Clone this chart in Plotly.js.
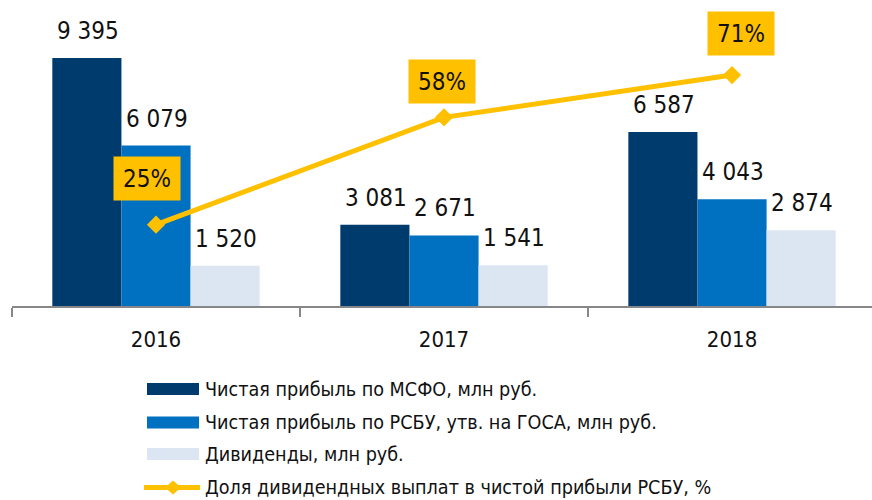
<!DOCTYPE html>
<html>
<head>
<meta charset="utf-8">
<script src="https://cdn.plot.ly/plotly-3.0.1.min.js"></script>
<style>
html,body{margin:0;padding:0;background:#fff;overflow:hidden;}
#chart{width:872px;height:500px;}
</style>
</head>
<body>
<div id="chart"></div>
<script>
// ---- data ----
const years = ['2016', '2017', '2018'];
const profitIFRS = [9395, 3081, 6587];
const profitRAS = [6079, 2671, 4043];
const dividends = [1520, 1541, 2874];
const payoutShare = [25, 58, 71];
const seriesNames = [
  'Чистая прибыль по МСФО, млн руб.',
  'Чистая прибыль по РСБУ, утв. на ГОСА, млн руб.',
  'Дивиденды, млн руб.',
  'Доля дивидендных выплат в чистой прибыли РСБУ, %'
];

// ---- styles ----
const FONT = '"Liberation Sans Narrow", "Arial Narrow", "DejaVu Sans Condensed", sans-serif';
const colors = ['#003B6D', '#0070C0', '#DCE6F2', '#FFC000'];
const L = 12, T = 10, W = 872, H = 500, B = 194;
const plotW = W - L, plotH = H - T - B;
const px = v => (v - L) / plotW;
const py = v => (H - B - v) / plotH;

function fmt(n) {
  return String(n).replace(/\B(?=(\d{3})+(?!\d))/g, ' ');
}

const barSeries = [profitIFRS, profitRAS, dividends];
const traces = barSeries.map((vals, i) => ({
  type: 'bar',
  x: years,
  y: vals,
  name: seriesNames[i],
  marker: {color: colors[i]},
  hoverinfo: 'none',
  showlegend: false
}));
traces.push({
  type: 'scatter',
  mode: 'lines+markers',
  x: years,
  y: payoutShare,
  yaxis: 'y2',
  name: seriesNames[3],
  line: {color: colors[3], width: 5},
  marker: {symbol: 'diamond', size: 14, color: colors[3]},
  hoverinfo: 'none',
  showlegend: false
});

const annotations = [];
// bar value labels
const barOffsets = [-1, 0, 1];
barSeries.forEach((vals, i) => {
  vals.forEach((v, j) => {
    annotations.push({
      x: j, y: v, xref: 'x', yref: 'y',
      text: fmt(v), showarrow: false,
      xshift: barOffsets[i] * 69 + 1, yshift: 27,
      yanchor: 'middle', xanchor: 'center',
      font: {family: FONT, size: 24, color: '#111'}
    });
  });
});
// percent labels
const pxs = [-9, -2, 9], pys = [46, 36, 42];
payoutShare.forEach((v, j) => {
  annotations.push({
    x: j, y: v, xref: 'x', yref: 'y2',
    text: v + '%', showarrow: false,
    xshift: pxs[j], yshift: pys[j],
    bgcolor: colors[3], borderpad: 0, width: 66, height: 43,
    font: {family: FONT, size: 24, color: '#111'}
  });
});

// custom legend
const shapes = [];
const legendRows = [389, 422.5, 454, 487.5];
legendRows.forEach((ry, i) => {
  if (i < 3) {
    shapes.push({
      type: 'rect', xref: 'paper', yref: 'paper',
      x0: px(147), x1: px(199), y0: py(ry + 6), y1: py(ry - 6),
      fillcolor: colors[i], line: {width: 0}
    });
  } else {
    shapes.push({
      type: 'line', xref: 'paper', yref: 'paper',
      x0: px(144), x1: px(200), y0: py(ry), y1: py(ry),
      line: {color: colors[3], width: 5}
    });
    shapes.push({
      type: 'path', xref: 'paper', yref: 'paper',
      path: 'M ' + px(173) + ' ' + py(ry - 7) + ' L ' + px(181) + ' ' + py(ry) +
            ' L ' + px(173) + ' ' + py(ry + 7) + ' L ' + px(165) + ' ' + py(ry) + ' Z',
      fillcolor: colors[3], line: {width: 0}
    });
  }
  annotations.push({
    xref: 'paper', yref: 'paper', x: px(203), y: py(ry),
    xanchor: 'left', yanchor: 'middle', showarrow: false,
    text: seriesNames[i],
    font: {family: FONT, size: 19.6, color: '#111'}
  });
});

const layout = {
  width: W, height: H,
  margin: {l: L, r: 0, t: T, b: B, pad: 0},
  paper_bgcolor: '#fff', plot_bgcolor: '#fff',
  barmode: 'group', bargap: 0.28, bargroupgap: 0,
  showlegend: false,
  font: {family: FONT, size: 22, color: '#111'},
  xaxis: {
    type: 'category', range: [-0.5, 2.486],
    showline: true, linecolor: '#878787', linewidth: 2,
    ticks: 'outside', tickson: 'boundaries', ticklen: 9, tickwidth: 2, tickcolor: '#878787',
    ticklabelstandoff: 13,
    tickfont: {family: FONT, size: 22, color: '#111'},
    showgrid: false, zeroline: false, fixedrange: true
  },
  yaxis: {
    range: [0, 11212], visible: false, showgrid: false, zeroline: false, fixedrange: true
  },
  yaxis2: {
    range: [0, 91], overlaying: 'y', side: 'right', visible: false,
    showgrid: false, zeroline: false, fixedrange: true
  },
  annotations: annotations,
  shapes: shapes
};

Plotly.newPlot('chart', traces, layout, {staticPlot: true, displayModeBar: false});
</script>
</body>
</html>
